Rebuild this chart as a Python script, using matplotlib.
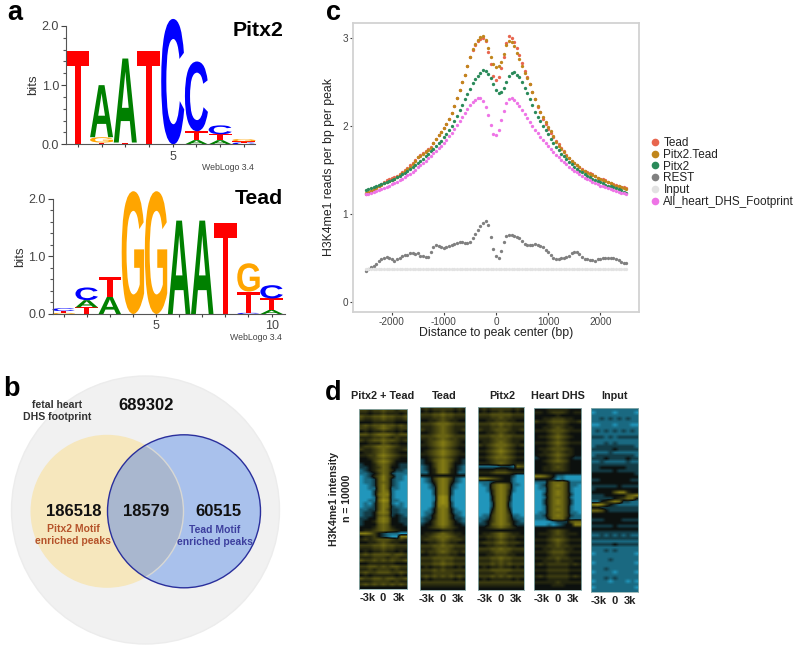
import numpy as np
import matplotlib
matplotlib.use("Agg")
import matplotlib.pyplot as plt
from matplotlib.colors import LinearSegmentedColormap
from matplotlib.font_manager import FontProperties
from matplotlib.patches import Circle, PathPatch
from matplotlib.textpath import TextPath
from matplotlib.transforms import Affine2D

plt.rcParams['font.family'] = ['Liberation Sans', 'DejaVu Sans']
plt.rcParams['axes.unicode_minus'] = False

# panel a, stacks go bottom to top as (letter, bits)
pitx2_stacks = [
    [("T", 1.57)],
    [("T", 0.03), ("G", 0.09), ("A", 0.88)],
    [("T", 0.03), ("A", 1.42)],
    [("T", 1.57)],
    [("C", 2.12)],
    [("A", 0.07), ("T", 0.15), ("C", 1.18)],
    [("A", 0.07), ("T", 0.10), ("C", 0.15)],
    [("C", 0.03), ("T", 0.02), ("G", 0.04)],
]
tead_stacks = [
    [("G", 0.02), ("T", 0.03), ("C", 0.05)],
    [("T", 0.115), ("A", 0.125), ("C", 0.22)],
    [("A", 0.30), ("T", 0.35)],
    [("G", 2.13)],
    [("G", 2.13)],
    [("A", 1.62)],
    [("A", 1.62)],
    [("T", 1.57)],
    [("C", 0.02), ("T", 0.37), ("G", 0.49)],
    [("A", 0.07), ("T", 0.20), ("C", 0.23)],
]
letter_colors = {"A": "#008000", "C": "#0000ff", "G": "#ffa500", "T": "#ff0000"}

# panel c
distance = list(range(-2500, 2501, 50))
tead = [1.22, 1.24, 1.26, 1.28, 1.30, 1.32, 1.34, 1.36, 1.38, 1.40, 1.41, 1.42, 1.43, 1.45, 1.47, 1.50, 1.52, 1.55,
        1.58, 1.61, 1.64, 1.67, 1.69, 1.71, 1.73, 1.76, 1.80, 1.85, 1.89, 1.93, 1.97, 2.02, 2.08, 2.14, 2.22, 2.31,
        2.41, 2.50, 2.58, 2.68, 2.78, 2.86, 2.92, 2.96, 2.98, 3.00, 2.96, 2.84, 2.70, 2.57, 2.52, 2.55, 2.65, 2.78,
        2.94, 3.02, 3.00, 2.95, 2.88, 2.80, 2.71, 2.62, 2.55, 2.47, 2.38, 2.30, 2.21, 2.15, 2.08, 2.02, 1.96, 1.92,
        1.87, 1.83, 1.79, 1.75, 1.71, 1.67, 1.63, 1.60, 1.58, 1.55, 1.53, 1.51, 1.49, 1.47, 1.46, 1.45, 1.43, 1.41,
        1.40, 1.39, 1.38, 1.36, 1.35, 1.34, 1.33, 1.31, 1.30, 1.30, 1.29]
pitx2_tead = [1.24, 1.25, 1.26, 1.27, 1.29, 1.31, 1.33, 1.35, 1.36, 1.37, 1.385, 1.40, 1.42, 1.44, 1.46, 1.48, 1.51,
              1.53, 1.56, 1.60, 1.64, 1.66, 1.68, 1.70, 1.72, 1.75, 1.80, 1.85, 1.89, 1.93, 1.97, 2.02, 2.08, 2.14,
              2.22, 2.31, 2.41, 2.50, 2.58, 2.68, 2.78, 2.87, 2.93, 2.97, 3.01, 3.02, 2.97, 2.88, 2.78, 2.70, 2.67,
              2.68, 2.72, 2.82, 2.92, 2.965, 2.95, 2.90, 2.83, 2.76, 2.68, 2.60, 2.54, 2.47, 2.38, 2.30, 2.22, 2.16,
              2.10, 2.04, 1.98, 1.94, 1.88, 1.82, 1.77, 1.73, 1.70, 1.66, 1.63, 1.60, 1.575, 1.55, 1.53, 1.50, 1.48,
              1.46, 1.45, 1.44, 1.43, 1.41, 1.40, 1.38, 1.37, 1.36, 1.345, 1.33, 1.32, 1.31, 1.30, 1.29, 1.285]
pitx2 = [1.27, 1.28, 1.29, 1.30, 1.31, 1.325, 1.335, 1.35, 1.36, 1.37, 1.385, 1.40, 1.415, 1.43, 1.45, 1.465, 1.485,
         1.505, 1.525, 1.55, 1.575, 1.60, 1.625, 1.65, 1.68, 1.71, 1.74, 1.77, 1.80, 1.83, 1.87, 1.91, 1.95, 2.00,
         2.05, 2.11, 2.18, 2.24, 2.30, 2.36, 2.42, 2.48, 2.53, 2.57, 2.60, 2.63, 2.62, 2.59, 2.54, 2.47, 2.41, 2.37,
         2.38, 2.43, 2.50, 2.57, 2.60, 2.605, 2.58, 2.55, 2.50, 2.43, 2.37, 2.30, 2.23, 2.16, 2.10, 2.05, 2.00, 1.95,
         1.90, 1.85, 1.80, 1.76, 1.72, 1.68, 1.65, 1.62, 1.59, 1.56, 1.53, 1.51, 1.49, 1.47, 1.45, 1.43, 1.42, 1.40,
         1.385, 1.37, 1.355, 1.345, 1.33, 1.32, 1.31, 1.30, 1.29, 1.28, 1.265, 1.25, 1.24]
rest = [0.35, 0.37, 0.39, 0.41, 0.43, 0.46, 0.48, 0.50, 0.51, 0.50, 0.48, 0.46, 0.48, 0.50, 0.52, 0.53, 0.53, 0.55,
        0.55, 0.54, 0.55, 0.52, 0.515, 0.51, 0.51, 0.56, 0.62, 0.64, 0.635, 0.62, 0.615, 0.62, 0.63, 0.65, 0.66,
        0.67, 0.68, 0.68, 0.67, 0.67, 0.68, 0.72, 0.77, 0.82, 0.86, 0.90, 0.92, 0.87, 0.74, 0.60, 0.52, 0.50, 0.58,
        0.68, 0.75, 0.76, 0.76, 0.75, 0.74, 0.72, 0.69, 0.66, 0.64, 0.64, 0.645, 0.66, 0.64, 0.63, 0.62, 0.59, 0.56,
        0.53, 0.50, 0.49, 0.49, 0.50, 0.50, 0.51, 0.52, 0.55, 0.57, 0.56, 0.54, 0.51, 0.49, 0.48, 0.47, 0.47, 0.46,
        0.48, 0.49, 0.50, 0.50, 0.50, 0.50, 0.50, 0.49, 0.47, 0.45, 0.445, 0.44]
input_signal = [0.37, 0.37, 0.37, 0.37, 0.37, 0.37, 0.37, 0.37, 0.37, 0.37, 0.37, 0.37, 0.37, 0.37, 0.37, 0.37, 0.37,
                0.37, 0.37, 0.37, 0.37, 0.37, 0.37, 0.37, 0.37, 0.37, 0.37, 0.37, 0.37, 0.37, 0.37, 0.37, 0.37, 0.37,
                0.37, 0.37, 0.37, 0.37, 0.37, 0.37, 0.37, 0.37, 0.37, 0.37, 0.37, 0.37, 0.37, 0.37, 0.37, 0.37, 0.37,
                0.37, 0.37, 0.37, 0.37, 0.37, 0.37, 0.37, 0.37, 0.37, 0.37, 0.37, 0.37, 0.37, 0.37, 0.37, 0.37, 0.37,
                0.37, 0.37, 0.37, 0.37, 0.37, 0.37, 0.37, 0.37, 0.37, 0.37, 0.37, 0.37, 0.37, 0.37, 0.37, 0.37, 0.37,
                0.37, 0.37, 0.37, 0.37, 0.37, 0.37, 0.37, 0.37, 0.37, 0.37, 0.37, 0.37, 0.37, 0.37, 0.37, 0.37]
all_heart = [1.22, 1.225, 1.235, 1.245, 1.255, 1.265, 1.28, 1.29, 1.305, 1.32, 1.335, 1.35, 1.365, 1.38, 1.40, 1.415,
             1.435, 1.455, 1.475, 1.50, 1.53, 1.55, 1.575, 1.60, 1.63, 1.655, 1.685, 1.715, 1.745, 1.77, 1.80, 1.84,
             1.88, 1.92, 1.96, 2.01, 2.055, 2.10, 2.145, 2.19, 2.235, 2.27, 2.295, 2.31, 2.31, 2.28, 2.21, 2.12, 2.01,
             1.91, 1.89, 1.95, 2.06, 2.17, 2.26, 2.305, 2.31, 2.29, 2.26, 2.22, 2.18, 2.135, 2.09, 2.045, 2.00, 1.955,
             1.915, 1.875, 1.84, 1.80, 1.77, 1.735, 1.70, 1.67, 1.64, 1.61, 1.585, 1.56, 1.535, 1.51, 1.49, 1.47, 1.45,
             1.43, 1.41, 1.395, 1.38, 1.365, 1.35, 1.335, 1.32, 1.31, 1.30, 1.29, 1.28, 1.27, 1.26, 1.25, 1.24, 1.23,
             1.22]
series_names = ["Tead", "Pitx2.Tead", "Pitx2", "REST", "Input", "All_heart_DHS_Footprint"]
series_colors = ["#e8664f", "#c0861c", "#2a8a5a", "#808080", "#e2e2e2", "#ee74e6"]

# panel b
venn_total = "689302"
venn_left = "186518"
venn_both = "18579"
venn_right = "60515"

# panel d, rows of intensity, 0 blue, 3 black, 9 yellow
heat_titles = ["Pitx2 + Tead", "Tead", "Pitx2", "Heart DHS", "Input"]
heat_pitx2_tead = [
    "55455655455", "44344544434", "65566766556", "54455655445", "33344444333", "56566766565",
    "55456765455", "34344544343", "66567776566", "44455654544", "54566766545", "33444654433",
    "45567776544", "54456765445", "34456765433", "44557876544", "33456765433", "33357875333",
    "23346764322", "22345763322", "12346764221", "11235762111", "01246864110", "01126862110",
    "01126762100", "00126862100", "00116861100", "00026871000", "00027881000", "00016871000",
    "00117981100", "01026871010", "01126872110", "11226862211", "12237872211", "12236762321",
    "22337873322", "23347873322", "23336763332", "33346764333", "34456765433", "88753211100",
    "34453210088", "45456665454", "33445654433", "55566766555", "44455655444", "34344544343",
    "56566665665", "44455545544", "65565656556", "33444444333", "55665656655", "44545554544",
    "56556665565", "34344444343", "65566566556", "44455554544", "56565656565", "33333333333",
]
heat_tead = [
    "45455555454", "34344544343", "55566766555", "44455655444", "33445654433", "55567776555",
    "44456765444", "54456765445", "33456765433", "55567776555", "44556765544", "34567876543",
    "44567876544", "33456765433", "34567876543", "44567876544", "33456765433", "23467876432",
    "23357875332", "12357875321", "12347874321", "11347874311", "33333333333", "01257875210",
    "01247874210", "00137873100", "00127872100", "00027872000", "00027872000", "00018981000",
    "00018981000", "00028982000", "00028882000", "00137873100", "01137873110", "01247874210",
    "12247874221", "12357875321", "23357875332", "33456765433", "33333444333", "34456765443",
    "44567776544", "45556765554", "33445654433", "55566766555", "44456665444", "54556765545",
    "33445554433", "55566666555", "44455655444", "55566766555", "34344544343", "55565655555",
    "44455555444", "56565656565", "34344444343", "55555555555", "44444444444", "33333333333",
]
heat_pitx2 = [
    "45455555454", "34344544343", "55566666555", "44455655444", "33445554433", "55566766555",
    "44455655444", "54456665445", "33445654433", "55566766555", "44456665444", "34456765443",
    "54567776545", "33456765433", "44567876544", "33456765433", "44567776544", "33456665433",
    "44456765444", "11111222176", "33334443333", "44456665444", "33333333200", "88765433100",
    "11123333100", "01157875110", "00157875100", "00147874100", "00047874000", "00037873000",
    "00037873000", "00027872000", "00027872000", "00037873000", "00047874000", "01157875110",
    "11257875211", "12357875321", "22367876322", "33456765433", "33333333333", "34456765443",
    "44556765544", "33445654433", "45556765554", "33445554433", "55566766555", "44456665444",
    "33445554433", "55566766555", "44455655444", "55565656555", "34344544343", "55566666555",
    "44445554444", "55565656555", "34344444343", "55555555555", "44444444444", "33333333333",
]
heat_dhs = [
    "33344444333", "44345554344", "33333433333", "33445554433", "54456665445", "33345554333",
    "33445654433", "44456665444", "33345654333", "34456765433", "33345654333", "44456765444",
    "33345654333", "34456665433", "33445654433", "34456765433", "23345654322", "33456765333",
    "33345554333", "33445654333", "33445554333", "33333333333", "88753110000", "33332010000",
    "11157775111", "01257875110", "01157775100", "00157875100", "00257875200", "00157775100",
    "00257875200", "00257875200", "00157775100", "00157875100", "01157775110", "11257875211",
    "11147774111", "00001222677", "00010123388", "33333333333", "33345654333", "34445654443",
    "33345554333", "44456765444", "33345654333", "44455655444", "33445554433", "44456665444",
    "33345554333", "44455655444", "33444544433", "45455555454", "33344444333", "44455555444",
    "33344444333", "45455555454", "33344444333", "44444544444", "33334443333", "33333333333",
]
heat_input = [
    "11111111111", "01111011110", "11111111111", "11212121211", "11111111111", "00111011100",
    "11111111111", "12121212121", "11111111111", "22212122222", "11111111111", "11121211111",
    "12222222221", "22222322222", "11112111111", "12222222221", "22232222322", "11211111211",
    "22222222222", "22333333222", "22222322222", "33333333332", "33333333333", "22333333322",
    "33333333333", "22222232222", "23333333333", "33333688433", "22233333678", "22222345773",
    "11346872211", "89853211111", "33222222222", "77632222222", "33333333333", "33333333333",
    "22233332222", "33333333333", "22222322222", "33333333333", "22222222222", "11212121211",
    "22222222222", "11111111111", "22222322222", "11111111111", "11121211111", "01111111110",
    "11111111111", "11112111111", "01111111110", "11111111111", "11121111111", "01111011110",
    "11111111111", "11121211111", "01110111010", "11111111111", "01111111110", "11111111111",
]
heat_maps = [heat_pitx2_tead, heat_tead, heat_pitx2, heat_dhs, heat_input]
heat_ticks = [-3000, 0, 3000]
heat_tick_labels = ["-3k", "0", "3k"]

W, H = 800, 648
fig = plt.figure(figsize=(W / 100, H / 100), dpi=100)


def px_axes(x0, y0, x1, y1):
    # axes from a pixel box, y counted from the top
    return fig.add_axes([x0 / W, 1 - y1 / H, (x1 - x0) / W, (y1 - y0) / H])


# backdrop axes in pixels for the venn and loose labels
bg = px_axes(0, 0, W, H)
bg.set_xlim(0, W)
bg.set_ylim(H, 0)
bg.axis("off")

for txt, x, y in [("a", 7, 20), ("b", 3, 396), ("c", 326, 20), ("d", 325, 400)]:
    bg.text(x, y, txt, fontsize=19.5, fontweight="bold", color="black", ha="left", va="baseline")


## Panel a -------------------------------------------------------------------------------------------------------------
logo_font = FontProperties(family="Liberation Sans", weight="bold")


def draw_logo(ax, stacks, width=0.97):
    for pos, stack in enumerate(stacks, start=1):
        base = 0
        for letter, bits in stack:
            path = TextPath((0, 0), letter, size=1, prop=logo_font)
            box = path.get_extents()
            tr = (Affine2D().translate(-box.x0, -box.y0)
                  .scale(width / box.width, bits / box.height)
                  .translate(pos - width / 2, base))
            ax.add_patch(PathPatch(path, fc=letter_colors[letter], lw=0, transform=tr + ax.transData, clip_on=False))
            base += bits


def style_logo(ax, positions, labels, xlim):
    ax.patch.set_alpha(0)
    ax.set_xlim(*xlim)
    ax.set_ylim(0, 2)
    ax.spines[["top", "right"]].set_visible(False)
    ax.spines[["left", "bottom"]].set_color("#555555")
    ax.set_yticks([0, 1, 2], ["0.0", "1.0", "2.0"])
    ax.set_yticks(np.arange(0, 2.01, 0.2), minor=True)
    ax.set_xticks(positions, labels)
    ax.tick_params(axis="y", colors="#444444", labelsize=9, length=3.5, width=0.8, pad=1.5)
    ax.tick_params(axis="x", colors="#444444", labelsize=9, length=2, width=0.8, pad=2.5)
    ax.tick_params(axis="y", which="minor", colors="#555555", length=2, width=0.8)


ax_pitx2 = px_axes(66, 26, 255, 144.3)
style_logo(ax_pitx2, list(range(1, 9)), ["", "", "", "", "5", "", "", ""], (0.5, 8.47))
draw_logo(ax_pitx2, pitx2_stacks)

ax_tead = px_axes(52.7, 198.7, 285, 314)
style_logo(ax_tead, list(range(1, 11)), ["", "", "", "", "5", "", "", "", "", "10"], (0.53, 10.58))
draw_logo(ax_tead, tead_stacks)

bg.text(33, 85, "bits", fontsize=9.5, color="#333333", rotation=90, ha="center", va="center")
bg.text(20, 257, "bits", fontsize=9.5, color="#333333", rotation=90, ha="center", va="center")
bg.text(283, 31, "Pitx2", fontsize=15.3, fontweight="bold", color="black", ha="right", va="center")
bg.text(283, 199, "Tead", fontsize=15.3, fontweight="bold", color="black", ha="right", va="center")
bg.text(254, 168, "WebLogo 3.4", fontsize=6.3, color="#444444", ha="right", va="center")
bg.text(282, 338, "WebLogo 3.4", fontsize=6.3, color="#444444", ha="right", va="center")


## Panel b -------------------------------------------------------------------------------------------------------------
bg.add_patch(Circle((145.5, 510), 134, fc="#f1f1f1", ec="#ececec", lw=1))
bg.add_patch(Circle((107, 511.3), 76.5, fc="#f6e7bd", ec="none"))
blue = Circle((184, 511.3), 76.5, fc="#a9c1ec", ec="none")
bg.add_patch(blue)
overlap = Circle((107, 511.3), 76.5, fc="#a9b7cf", ec="#d8d8d4", lw=1)
bg.add_patch(overlap)
overlap.set_clip_path(blue)
bg.add_patch(Circle((184, 511.3), 76.5, fc="none", ec="#2a2f9c", lw=1))

for txt, x, y in [(venn_total, 145.7, 405.7), (venn_left, 74, 511.7), (venn_both, 145.7, 511.7), (venn_right, 218, 511.7)]:
    bg.text(x, y, txt, fontsize=12, fontweight="bold", color="#111111", ha="center", va="center")
bg.text(57, 411, "fetal heart\nDHS footprint", fontsize=7.6, fontweight="bold", color="#333333",
        ha="center", va="center", linespacing=1.15)
bg.text(73, 535, "Pitx2 Motif\nenriched peaks", fontsize=7.5, fontweight="bold", color="#b5532a",
        ha="center", va="center", linespacing=1.25)
bg.text(215, 536, "Tead Motif\nenriched peaks", fontsize=7.5, fontweight="bold", color="#3d3f9e",
        ha="center", va="center", linespacing=1.25)


## Panel c -------------------------------------------------------------------------------------------------------------
ax_c = px_axes(352.7, 23, 639, 312)
series = [tead, pitx2_tead, pitx2, rest, input_signal, all_heart]
for values, name, col in zip(series, series_names, series_colors):
    ax_c.plot(distance, values, ls="none", marker="o", ms=2.4, mew=0, color=col, label=name)
ax_c.set_xlim(-2749, 2743)
ax_c.set_ylim(-0.117, 3.167)
ax_c.set_xticks([-2000, -1000, 0, 1000, 2000])
ax_c.set_yticks([0, 1, 2, 3])
ax_c.tick_params(colors="#444444", labelsize=7.2, length=2, width=0.8, pad=1.5)
for side in ax_c.spines.values():
    side.set_color("#d2d2d2")
    side.set_linewidth(1.3)
ax_c.set_xlabel("Distance to peak center (bp)", fontsize=8.8, color="#222222", labelpad=0)
ax_c.set_ylabel("H3K4me1 reads per bp per peak", fontsize=8.8, color="#222222", labelpad=5)
leg_handles = [plt.Line2D([], [], ls="none", marker="o", ms=5.5, mew=0, color=c) for c in series_colors]
fig.legend(leg_handles, series_names, loc="upper left", bbox_to_anchor=(647.5 / W, 1 - 137 / H), frameon=False,
           fontsize=8.5, labelspacing=-0.02, handletextpad=0.1, handlelength=1.25, borderpad=0, borderaxespad=0,
           labelcolor="#222222")


## Panel d -------------------------------------------------------------------------------------------------------------
heat_cmap = LinearSegmentedColormap.from_list("heat", [(0, "#2196bb"), (0.33, "#0c100e"), (1, "#9a9016")])
heat_boxes = [(358.7, 409, 407.3, 589), (419.7, 407.3, 465.3, 590), (477.7, 407.3, 523.7, 590),
              (533.7, 408.3, 581.3, 590), (591, 408.3, 638.3, 591.7)]
title_centers = [383, 444, 502, 558, 614]
for rows, title, box, cx in zip(heat_maps, heat_titles, heat_boxes, title_centers):
    ax = px_axes(*box)
    grid = np.array([[int(c) for c in row] for row in rows])
    half = 3000 * (box[2] - box[0]) / 2 / 15.6
    ax.imshow(grid, cmap=heat_cmap, vmin=0, vmax=9, aspect="auto", interpolation="bilinear",
              extent=[-half, half, 0, 1])
    ax.set_xticks(heat_ticks, heat_tick_labels)
    ax.set_yticks([])
    ax.tick_params(axis="x", length=0, labelsize=8, pad=3, labelcolor="#222222")
    for label in ax.get_xticklabels():
        label.set_fontweight("bold")
    for side in ax.spines.values():
        side.set_color("#8fb0b0")
        side.set_linewidth(0.6)
    bg.text(cx, 396, title, fontsize=7.8, fontweight="bold", color="#222222", ha="center", va="center")

bg.text(334, 499, "H3K4me1 intensity", fontsize=7.6, fontweight="bold", color="#222222", rotation=90,
        ha="center", va="center")
bg.text(347, 498, "n = 10000", fontsize=7.6, fontweight="bold", color="#222222", rotation=90,
        ha="center", va="center")

fig.savefig("out.png", dpi=100)
